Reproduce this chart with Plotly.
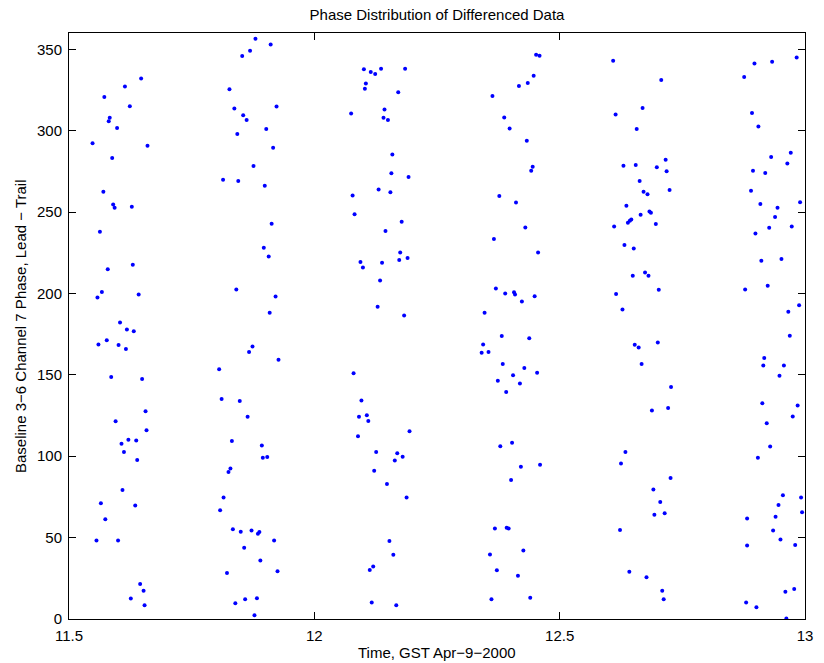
import plotly.graph_objects as go

# ---- data (time in GST hours, phase in degrees) ----
t1 = [11.647, 11.614, 11.572, 11.624, 11.583, 11.581, 11.598, 11.548, 11.660, 11.588,
      11.570, 11.590, 11.593, 11.628, 11.563, 11.579, 11.630, 11.567, 11.558, 11.642,
      11.604, 11.618, 11.632, 11.560, 11.577, 11.601, 11.616, 11.586, 11.649, 11.656,
      11.595, 11.658, 11.607, 11.621, 11.637, 11.612, 11.639, 11.609, 11.565, 11.635,
      11.574, 11.556, 11.600, 11.645, 11.652, 11.626, 11.654]
p1 = [332.0, 327.1, 320.7, 315.0, 307.9, 305.8, 301.7, 292.3, 290.7, 283.2,
      262.5, 254.6, 252.6, 253.2, 237.9, 214.8, 217.7, 200.9, 197.5, 199.3,
      182.1, 177.9, 176.8, 168.7, 171.3, 168.3, 165.8, 148.7, 147.4, 127.7,
      121.5, 116.0, 107.7, 110.1, 109.7, 102.6, 97.7, 79.3, 71.1, 69.7,
      61.3, 48.3, 48.3, 21.5, 17.4, 12.6, 8.5]

t2 = [11.880, 11.911, 11.869, 11.853, 11.827, 11.837, 11.923, 11.855, 11.862, 11.902,
      11.843, 11.916, 11.876, 11.814, 11.845, 11.899, 11.913, 11.897, 11.907, 11.841,
      11.921, 11.909,
      11.874, 11.867, 11.927, 11.806, 11.811, 11.848, 11.864, 11.832, 11.893, 11.895,
      11.904, 11.829, 11.825, 11.815, 11.808, 11.834, 11.850, 11.872, 11.888, 11.885,
      11.918, 11.857, 11.890, 11.822, 11.925, 11.839, 11.859, 11.883, 11.878]
p2 = [356.4, 353.0, 349.1, 345.8, 325.4, 313.6, 314.8, 309.5, 306.6, 301.1,
      298.0, 289.5, 278.3, 269.9, 269.1, 266.2, 242.8, 228.1, 222.7, 202.4,
      198.1, 188.1,
      167.4, 164.0, 159.3, 153.4, 135.2, 134.0, 124.2, 109.3, 106.6, 99.1,
      99.5, 92.5, 90.3, 74.6, 66.8, 55.2, 53.6, 54.4, 53.4, 52.3,
      48.3, 43.8, 36.0, 28.3, 29.3, 9.7, 12.1, 12.7, 2.3]

t3 = [12.101, 12.115, 12.124, 12.136, 12.185, 12.105, 12.103, 12.171, 12.075, 12.143,
      12.141, 12.150, 12.159, 12.157, 12.192, 12.131, 12.155, 12.078, 12.082, 12.178,
      12.145, 12.175, 12.173, 12.190, 12.094, 12.099, 12.138, 12.134, 12.129, 12.183,
      12.080, 12.096, 12.091, 12.107, 12.110, 12.194, 12.089, 12.126, 12.169, 12.180,
      12.164, 12.122, 12.148, 12.188, 12.153, 12.161, 12.120, 12.113, 12.117, 12.167]
p3 = [337.7, 336.0, 334.8, 338.1, 338.1, 328.9, 325.8, 323.6, 310.5, 313.0,
      307.9, 306.6, 285.4, 273.8, 271.5, 263.8, 262.2, 260.1, 248.7, 244.0,
      238.3, 225.2, 220.5, 221.8, 219.3, 216.0, 218.9, 207.9, 191.9, 186.4,
      150.9, 134.2, 124.2, 125.2, 121.7, 115.4, 112.3, 102.6, 101.9, 99.7,
      97.4, 91.1, 83.0, 74.6, 47.9, 39.5, 32.3, 30.1, 10.1, 8.5]

t4 = [12.452, 12.459, 12.447, 12.435, 12.417, 12.363, 12.387, 12.398, 12.433, 12.445,
      12.442, 12.377, 12.411, 12.430, 12.366, 12.456, 12.370, 12.389, 12.407, 12.409,
      12.449, 12.423, 12.347,
      12.382, 12.438, 12.344, 12.341, 12.355, 12.384, 12.428, 12.454, 12.405, 12.374,
      12.419, 12.391, 12.403, 12.379, 12.460, 12.421, 12.401, 12.368, 12.392, 12.396,
      12.426, 12.358, 12.372, 12.415, 12.361, 12.440]
p4 = [346.7, 346.0, 333.8, 329.3, 327.4, 321.3, 308.1, 301.3, 293.8, 277.8,
      275.4, 259.9, 255.8, 240.5, 233.4, 225.2, 203.1, 199.9, 200.7, 199.3,
      198.2, 195.0, 188.1,
      173.8, 172.5, 168.7, 163.6, 164.0, 156.6, 154.2, 151.3, 149.7, 146.4,
      144.6, 139.5, 108.2, 106.2, 94.8, 93.6, 85.4, 55.6, 56.0, 55.6,
      42.1, 39.7, 29.9, 26.6, 12.1, 13.0]

t5 = [12.609, 12.707, 12.669, 12.614, 12.657, 12.716, 12.630, 12.655, 12.698, 12.718,
      12.663, 12.724, 12.671, 12.679, 12.636, 12.683, 12.686, 12.665, 12.646, 12.643,
      12.639, 12.611, 12.696, 12.632, 12.651, 12.649, 12.674, 12.681, 12.702, 12.615,
      12.628,
      12.653, 12.661, 12.700, 12.667, 12.727, 12.721, 12.688, 12.634, 12.625, 12.726,
      12.691, 12.705, 12.693, 12.714, 12.623, 12.642, 12.677, 12.709, 12.712]
p5 = [343.0, 331.1, 314.0, 309.9, 301.1, 282.1, 278.5, 278.9, 277.5, 275.0,
      269.1, 263.6, 262.5, 260.9, 253.8, 250.3, 249.5, 248.3, 245.4, 244.6,
      243.4, 241.1, 242.6, 229.7, 227.6, 210.9, 212.9, 210.9, 202.2, 199.7,
      190.1,
      168.5, 166.8, 169.9, 156.6, 142.5, 129.7, 128.1, 102.6, 95.6, 86.6,
      79.5, 71.9, 64.0, 65.0, 54.6, 29.1, 25.6, 17.3, 12.1]

t6 = [12.983, 12.897, 12.933, 12.876, 12.892, 12.905, 12.971, 12.931, 12.964, 12.894,
      12.919, 12.890, 12.909, 12.990, 12.944, 12.939, 12.973, 12.927, 12.899, 12.911,
      12.952, 12.878, 12.924, 12.988, 12.966,
      12.969, 12.917, 12.915, 12.957, 12.948, 12.913, 12.985, 12.975, 12.922, 12.929,
      12.904, 12.955, 12.992, 12.946, 12.994, 12.882, 12.940, 12.935, 12.950, 12.980,
      12.882, 12.978, 12.960, 12.880, 12.901, 12.962]
p6 = [345.0, 341.3, 342.4, 332.9, 310.9, 302.6, 286.4, 283.8, 279.9, 275.4,
      274.0, 263.1, 255.0, 256.0, 252.6, 246.9, 241.1, 240.3, 236.8, 220.1,
      221.1, 202.5, 204.8, 192.7, 188.7,
      174.0, 160.3, 155.8, 155.8, 149.5, 132.6, 131.1, 124.4, 120.3, 106.0,
      99.1, 76.0, 74.6, 70.1, 65.6, 61.7, 62.8, 54.4, 48.9, 45.4,
      45.2, 18.5, 16.8, 10.1, 7.2, 0.3]

x_ticks = [11.5, 12, 12.5, 13]
x_tick_text = ["11.5", "12", "12.5", "13"]
y_ticks = [0, 50, 100, 150, 200, 250, 300, 350]

time = t1 + t2 + t3 + t4 + t5 + t6
phase = p1 + p2 + p3 + p4 + p5 + p6

FONT = "Liberation Sans, Arial, Helvetica, sans-serif"

fig = go.Figure()
fig.add_trace(go.Scatter(
    x=time, y=phase, mode="markers",
    marker=dict(color="#0000ff", size=4, line=dict(width=0)),
    showlegend=False, hoverinfo="x+y",
))

axis_common = dict(
    showline=True, linecolor="black", linewidth=1, mirror="allticks",
    ticks="inside", ticklen=7, tickwidth=1, tickcolor="black",
    showgrid=False, zeroline=False,
    tickfont=dict(family=FONT, size=15, color="black"),
)

fig.update_xaxes(range=[11.5, 13], tickvals=x_ticks, ticktext=x_tick_text,
                 ticklabelstandoff=3, **axis_common)
fig.update_yaxes(range=[0, 360], tickvals=y_ticks, ticklabelstandoff=3, **axis_common)

fig.update_layout(
    width=824, height=663,
    margin=dict(l=69, r=11, t=33, b=44),
    paper_bgcolor="white", plot_bgcolor="white",
    font=dict(family=FONT, size=15, color="black"),
    title=dict(text="Phase Distribution of Differenced Data",
               x=0.5, xref="paper", y=1 - 15 / 663, yref="container",
               xanchor="center", yanchor="middle",
               font=dict(family=FONT, size=15, color="black")),
    annotations=[
        dict(text="Time, GST Apr−9−2000", x=0.5, y=0, xref="paper", yref="paper",
             xanchor="center", yanchor="middle", yshift=-33, showarrow=False,
             font=dict(family=FONT, size=15, color="black")),
        dict(text="Baseline 3−6 Channel 7 Phase, Lead − Trail", x=0, y=0.5,
             xref="paper", yref="paper", xanchor="center", yanchor="middle",
             xshift=-49, textangle=-90, showarrow=False,
             font=dict(family=FONT, size=15, color="black")),
    ],
)

fig.write_html("out.html")
